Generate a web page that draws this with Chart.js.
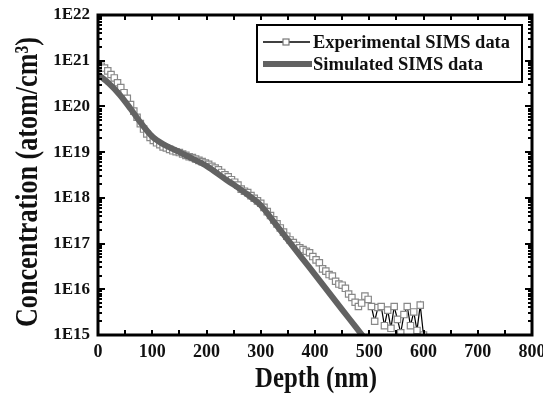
<!DOCTYPE html>
<html><head><meta charset="utf-8">
<script src="https://cdn.jsdelivr.net/npm/chart.js@4/dist/chart.umd.min.js"></script>
<style>html,body{margin:0;padding:0;background:#fff}#wrap{width:543px;height:395px}</style>
</head><body><div id="wrap"><canvas id="c" width="543" height="395"></canvas></div>
<script>
// Depth (nm) of experimental SIMS points
const expDepth = [0,6,12,18,24,30,36,42,48,54,60,66,72,78,84,90,96,102,108,114,120,126,132,138,144,150,156,162,168,174,180,186,192,198,204,210,216,222,228,234,240,246,252,258,264,270,276,282,288,294,300,306,312,318,324,330,336,342,348,354,360,366,372,378,384,390,396,402,408,414,420,426,432,438,444,450,456,462,468,474,480,486,492,498,504,510,516,522,528,534,540,546,552,558,564,570,576,582,588,594,600];
// Experimental concentration (atom/cm3)
const expConc = [7.9e20,7.6e20,6.9e20,6.0e20,5.0e20,4.2e20,3.3e20,2.6e20,2.0e20,1.5e20,1.1e20,7.9e19,5.8e19,4.2e19,3.2e19,2.5e19,2.1e19,1.8e19,1.6e19,1.45e19,1.3e19,1.23e19,1.15e19,1.07e19,1.02e19,9.8e18,9.1e18,8.5e18,7.9e18,7.6e18,7.1e18,6.6e18,6.2e18,5.8e18,5.4e18,4.9e18,4.5e18,4.1e18,3.6e18,3.2e18,2.9e18,2.5e18,2.2e18,1.9e18,1.55e18,1.4e18,1.3e18,1.12e18,9.8e17,8.6e17,7.6e17,6.2e17,5.0e17,4.1e17,3.3e17,2.7e17,2.2e17,1.78e17,1.45e17,1.2e17,1.05e17,9.1e16,8.1e16,7.4e16,6.8e16,6.3e16,5.2e16,4.4e16,3.8e16,2.8e16,2.5e16,2.1e16,1.95e16,1.5e16,1.3e16,1.23e16,1.05e16,7.9e15,6.6e15,5.2e15,4.2e15,5.0e15,7.1e15,6.0e15,4.2e15,2.0e15,4.0e15,4.2e15,1.6e15,3.5e15,1.4e15,4.2e15,2.2e15,1.12e15,2.8e15,4.2e15,1.6e15,3.2e15,1.26e15,4.5e15,1.0e15];
// Simulated profile
const simDepth = [0,20,40,60,80,100,120,150,175,200,237,250,275,300,325,350,375,400,425,450,475,490];
const simConc = [5.0e20,3.2e20,1.8e20,8.9e19,4.2e19,2.2e19,1.5e19,1.0e19,7.1e18,5.0e18,2.45e18,1.95e18,1.2e18,6.9e17,2.9e17,1.2e17,5.0e16,2.1e16,8.7e15,3.6e15,1.5e15,8.9e14];
const xTicks = [0,100,200,300,400,500,600,700,800];
const yTicks = [1e15,1e16,1e17,1e18,1e19,1e20,1e21,1e22];
const seriesNames = ['Experimental SIMS data','Simulated SIMS data'];
const xTitle = 'Depth (nm)';
const yTitle = 'Concentration (atom/cm³)';

const SERIF = '"Liberation Serif","DejaVu Serif",serif';

function fitText(ctx, text, x, y, targetW, rot) {
  const w = ctx.measureText(text).width;
  ctx.save();
  ctx.translate(x, y);
  if (rot) ctx.rotate(rot);
  ctx.scale(targetW / w, 1);
  ctx.fillText(text, 0, 0);
  ctx.restore();
}

const framePlugin = {
  id: 'frame',
  afterDraw(chart) {
    const ctx = chart.ctx, a = chart.chartArea;
    const xs = chart.scales.x, ys = chart.scales.y;
    ctx.save();
    ctx.strokeStyle = '#000';
    ctx.lineWidth = 2;
    ctx.beginPath();
    for (let v = 0; v <= 800; v += 50) {
      const px = Math.round(xs.getPixelForValue(v));
      const len = 5;
      ctx.moveTo(px, a.bottom); ctx.lineTo(px, a.bottom - len);
      ctx.moveTo(px, a.top); ctx.lineTo(px, a.top + len);
    }
    for (let e = 15; e < 22; e++) {
      for (let m = 1; m <= 9; m++) {
        const v = m * Math.pow(10, e);
        const py = Math.round(ys.getPixelForValue(v));
        const len = m === 1 ? 7 : 4;
        ctx.moveTo(a.left, py); ctx.lineTo(a.left + len, py);
        ctx.moveTo(a.right, py); ctx.lineTo(a.right - len, py);
      }
    }
    ctx.stroke();
    ctx.lineWidth = 3;
    ctx.strokeRect(a.left, a.top, a.right - a.left, a.bottom - a.top);
    // legend
    const lx = 257, ly = 25, lw = 265, lh = 57;
    ctx.fillStyle = '#fff';
    ctx.fillRect(lx, ly, lw, lh);
    ctx.lineWidth = 2;
    ctx.strokeRect(lx, ly, lw, lh);
    const ds = chart.data.datasets;
    const y1 = 42, y2 = 64;
    ctx.strokeStyle = '#000'; ctx.lineWidth = 1.5;
    ctx.beginPath(); ctx.moveTo(263, y1); ctx.lineTo(310, y1); ctx.stroke();
    ctx.fillStyle = '#fff'; ctx.strokeStyle = '#777'; ctx.lineWidth = 1.2;
    ctx.fillRect(283, y1 - 3, 6, 6); ctx.strokeRect(283, y1 - 3, 6, 6);
    ctx.strokeStyle = '#626262'; ctx.lineWidth = 6;
    ctx.beginPath(); ctx.moveTo(263, y2); ctx.lineTo(312, y2); ctx.stroke();
    ctx.fillStyle = '#111';
    ctx.font = 'bold 19px ' + SERIF;
    ctx.textBaseline = 'middle';
    ctx.textAlign = 'left';
    fitText(ctx, ds[0].label, 313, y1 + 1, 197, 0);
    fitText(ctx, ds[1].label, 313, y2 + 1, 170, 0);
    // axis titles
    ctx.textBaseline = 'alphabetic';
    ctx.textAlign = 'center';
    ctx.font = 'bold 29px ' + SERIF;
    fitText(ctx, xTitle, 316, 387, 122, 0);
    ctx.font = 'bold 32px ' + SERIF;
    fitText(ctx, yTitle, 37, 182, 290, -Math.PI / 2);
    ctx.restore();
  }
};

new Chart(document.getElementById('c'), {
  type: 'line',
  data: {
    datasets: [
      {
        label: seriesNames[0],
        data: expDepth.map((d, i) => ({x: d, y: expConc[i]})),
        borderColor: '#000', borderWidth: 1.2,
        pointStyle: 'rect', pointRadius: 4.5,
        pointBackgroundColor: '#fff', pointBorderColor: '#888', pointBorderWidth: 1.2,
        tension: 0, order: 1, clip: 0
      },
      {
        label: seriesNames[1],
        data: simDepth.map((d, i) => ({x: d, y: simConc[i]})),
        borderColor: '#626262', borderWidth: 6,
        pointRadius: 0, tension: 0.3, order: 0, clip: 0
      }
    ]
  },
  options: {
    responsive: false, animation: false, devicePixelRatio: 1,
    layout: { padding: { top: 15, right: 11, left: 0, bottom: 0 }, autoPadding: false },
    plugins: { legend: { display: false }, tooltip: { enabled: false } },
    scales: {
      x: {
        type: 'linear', min: 0, max: 800,
        afterFit: s => { s.height = 60; s.paddingRight = 0; s.paddingLeft = 0; },
        afterBuildTicks: s => { s.ticks = xTicks.map(v => ({value: v})); },
        grid: { display: false, drawTicks: false },
        border: { display: false },
        ticks: { padding: 7, color: '#111', font: { family: SERIF, size: 18, weight: 'bold' }, maxRotation: 0 }
      },
      y: {
        type: 'logarithmic', min: 1e15, max: 1e22,
        afterFit: s => { s.width = 98; s.paddingTop = 0; s.paddingBottom = 0; },
        afterBuildTicks: s => { s.ticks = yTicks.map(v => ({value: v})); },
        grid: { display: false, drawTicks: false },
        border: { display: false },
        ticks: { padding: 8, color: '#111', font: { family: SERIF, size: 17, weight: 'bold' },
          callback: v => '1E' + Math.round(Math.log10(v)) }
      }
    }
  },
  plugins: [framePlugin]
});
</script></body></html>
